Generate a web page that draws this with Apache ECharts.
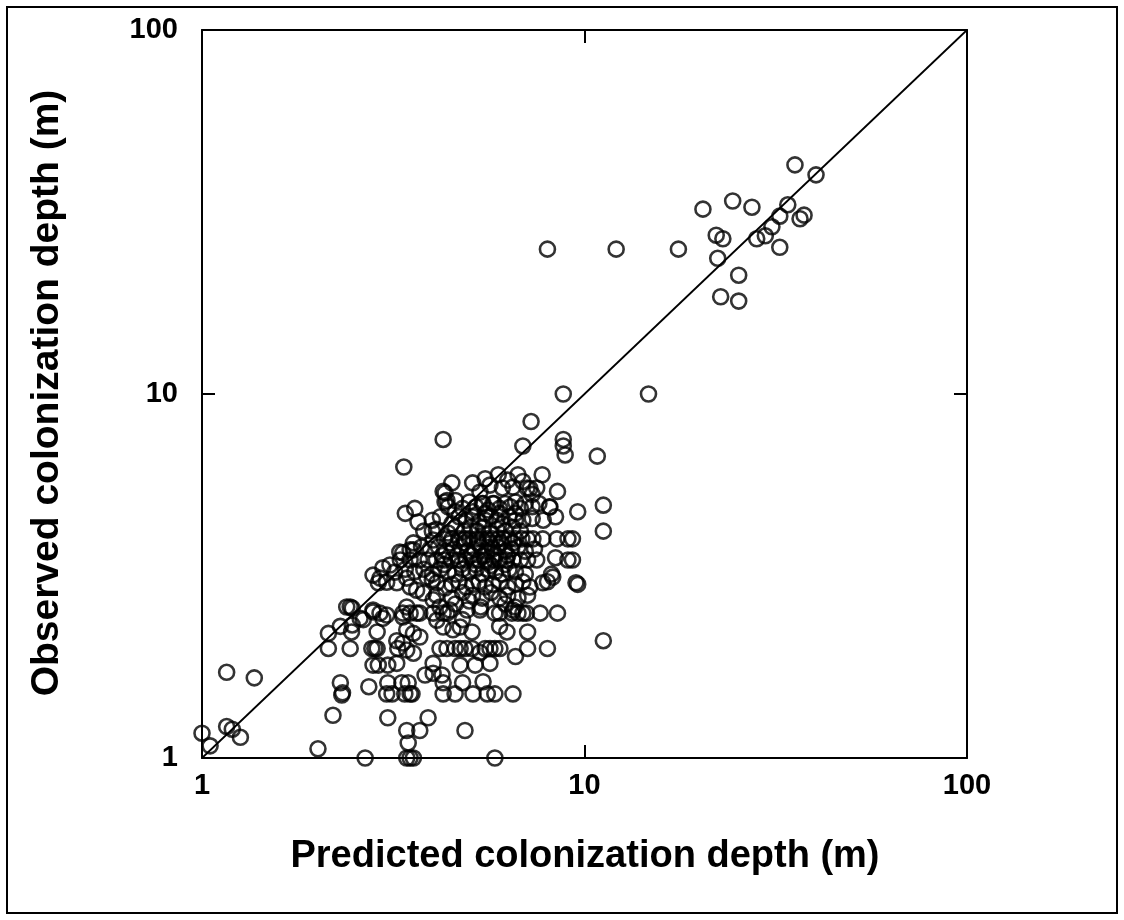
<!DOCTYPE html>
<html>
<head>
<meta charset="utf-8">
<script src="https://cdn.jsdelivr.net/npm/echarts@6/dist/echarts.min.js"></script>
<style>
html,body{margin:0;padding:0;background:#fff;}
#chart{width:1124px;height:920px;}
</style>
</head>
<body>
<div id="chart"></div>
<script>
// [predicted, observed] pairs (m)
const upperPoints = [
[12.1,25],[8.0,25],[17.6,25],[20.4,32.2],[24.4,33.9],[27.4,32.6],[35.5,42.6],[40.3,40.0],
[22.1,27.3],[23.0,26.7],[22.3,23.6],[25.3,21.2],[22.7,18.5],[25.3,18.0],[28.2,26.7],[29.7,27.2],
[30.9,28.8],[32.4,30.8],[34.0,33.1],[32.4,25.3],[36.6,30.3],[37.5,31.0],[8.8,10],[14.7,10]
];
const midOutliers = [
[8.8,7.5],[8.8,7.2],[8.9,6.8],[10.8,6.75],[7.25,8.4],[6.9,7.2],[4.27,7.5],[3.37,6.3],
[11.2,4.95],[11.2,4.2],[9.6,4.75],[9.3,4.0],[9.3,3.5],[9.6,3.0],[11.2,2.1],[8.5,5.4],
[8.4,3.55],[8.2,3.2],[8.0,3.05],[8.0,2.0],[8.5,2.5]
];
const lowPoints = [
[1.0,1.17],[1.05,1.08],[1.16,1.22],[1.2,1.2],[1.26,1.14],[1.16,1.72],[1.37,1.66],[2.01,1.06],
[2.67,1.0],[3.43,1.0],[3.5,1.0],[3.57,1.0],[5.83,1.0],[3.46,1.1],[3.43,1.19],[3.71,1.19],
[4.87,1.19],[2.2,1.31],[3.06,1.29],[3.9,1.29]
];
const bandPoints = [
[2.3,1.61],[2.33,1.51],[2.32,1.49],[2.73,1.57],[3.06,1.61],[3.04,1.5],[3.14,1.5],[3.33,1.61],
[3.46,1.61],[3.39,1.5],[3.5,1.5],[3.54,1.5],[4.27,1.5],[4.59,1.5],[5.11,1.5],[5.57,1.5],
[5.83,1.5],[6.5,1.5],[3.83,1.69],[4.02,1.71],[4.24,1.69],[4.27,1.61],[4.8,1.61],[5.43,1.62],
[4.02,1.82],[4.73,1.8],[5.18,1.8],[5.66,1.82],[2.8,1.8],[2.89,1.8],[3.06,1.8],[3.23,1.82],
[2.14,2.0],[2.44,2.0],[2.78,2.0],[2.83,2.0],[2.87,2.0],[3.25,2.0],[3.43,1.98],[3.57,1.94],
[4.19,2.0],[4.37,2.0],[4.59,2.0],[4.73,2.0],[4.87,2.0],[5.08,2.0],[5.33,1.95],[5.5,2.0],
[5.66,2.0],[5.83,2.0],[6.01,2.0],[6.6,1.9],[7.1,2.0],[3.23,2.1],[3.35,2.07],[3.71,2.15],
[3.57,2.2],[3.43,2.25],[4.27,2.29],[4.53,2.25],[4.73,2.29],[2.14,2.2],[2.3,2.3],[2.46,2.22],
[2.47,2.32],[2.87,2.22],[5.08,2.22],[6.27,2.22],[7.1,2.22],[6.0,2.3],[4.8,2.4],[2.64,2.4],
[2.59,2.42],[4.11,2.39],[3.35,2.44],[2.97,2.42]
];
const midBandPoints = [
[2.39,2.6],[2.47,2.58],[2.8,2.52],[2.92,2.5],[3.04,2.47],[2.44,2.6],[2.8,2.55],[3.43,2.6],
[3.5,2.5],[3.64,2.5],[4.02,2.72],[4.19,2.6],[4.37,2.5],[3.35,2.5],[3.71,2.5],[4.02,2.5],
[4.27,2.5],[4.45,2.55],[4.93,2.55],[5.33,2.55],[5.83,2.5],[6.0,2.5],[6.46,2.5],[6.5,2.55],
[6.58,2.6],[6.7,2.5],[6.9,2.5],[7.05,2.5],[7.66,2.5],[4.6,2.65],[5.0,2.7],[5.35,2.6],
[6.2,2.65],[4.1,2.8],[4.5,2.75],[4.8,2.85],[5.1,2.8],[5.4,2.75],[5.7,2.85],[6.0,2.75],
[6.3,2.8],[6.7,2.75],[7.1,2.8]
];
const corePoints = [
[4.4,4.9],[4.6,5.1],[4.8,4.85],[5.0,5.05],[5.2,4.9],[5.4,5.0],[5.6,4.8],[5.8,5.0],[6.0,4.85],
[6.2,5.0],[6.4,4.9],[6.6,5.05],[6.8,4.85],[7.0,5.0],[7.3,4.9],[7.6,5.0],[8.1,4.9],
[4.0,4.5],[4.2,4.6],[4.5,4.4],[4.7,4.6],[4.9,4.5],[5.1,4.6],[5.3,4.45],[5.5,4.5],[5.7,4.6],
[5.9,4.5],[6.1,4.4],[6.35,4.6],[6.6,4.5],[6.9,4.5],[7.3,4.55],[7.8,4.5],[8.4,4.6],
[3.8,4.2],[4.1,4.25],[4.4,4.15],[4.6,4.3],[4.85,4.2],[5.05,4.3],[5.25,4.2],[5.45,4.3],
[5.65,4.15],[5.9,4.25],[6.2,4.2],[6.5,4.3],[6.8,4.2],
[4.3,4.0],[4.5,4.0],[4.7,4.0],[4.87,4.0],[5.0,4.0],[5.24,4.0],[5.4,4.0],[5.57,4.0],[5.75,4.0],
[5.95,4.0],[6.15,4.0],[6.37,4.0],[6.6,4.0],[6.86,4.0],[7.1,4.0],[7.33,4.0],[7.78,4.0],[8.47,4.0],[9.05,4.0],
[3.35,3.66],[3.5,3.73],[3.57,3.73],[3.75,3.8],[3.95,3.75],[4.15,3.8],[4.35,3.7],[4.55,3.75],
[4.75,3.8],[4.95,3.7],[5.15,3.75],[5.35,3.8],[5.55,3.7],[5.75,3.75],[5.95,3.8],[6.2,3.7],
[6.45,3.75],[6.7,3.8],[7.0,3.7],[7.4,3.75],
[3.3,3.5],[3.5,3.5],[3.7,3.5],[3.9,3.5],[4.1,3.5],[4.3,3.5],[4.5,3.5],[4.7,3.5],[4.9,3.5],
[5.1,3.5],[5.3,3.5],[5.5,3.5],[5.6,3.45],[5.8,3.5],[6.0,3.5],[6.25,3.5],[6.5,3.5],[6.8,3.5],
[7.1,3.5],[7.5,3.5],[9.05,3.5],
[3.1,3.39],[2.97,3.33],[3.19,3.24],[3.4,3.3],[3.6,3.25],[3.8,3.3],[4.0,3.2],[4.2,3.3],[4.4,3.25],
[4.6,3.2],[4.8,3.3],[5.0,3.25],[5.2,3.3],[5.4,3.2],[5.6,3.3],[5.85,3.25],[6.1,3.2],[6.35,3.3],
[6.6,3.25],[7.0,3.2],[8.26,3.14],
[2.8,3.18],[2.92,3.12],[2.89,3.03],[3.04,3.04],[3.23,3.03],[3.43,3.12],[3.5,2.95],[3.64,2.89],
[3.79,2.84],[3.87,3.14],[4.0,3.09],[4.11,3.03],[4.32,2.93],[4.5,3.0],[4.7,3.05],[4.9,2.95],
[5.1,3.0],[5.3,3.05],[5.5,2.95],[5.75,3.0],[6.0,3.05],[6.3,2.95],[6.6,3.0],[6.9,3.05],[7.2,2.95],
[7.78,3.03],[9.5,3.03],
[4.25,3.6],[4.65,3.6],[5.05,3.62],[5.45,3.6],[5.85,3.62],[6.3,3.6],[4.45,3.9],[4.85,3.9],
[5.25,3.9],[5.65,3.88],[6.05,3.9],[6.5,3.9],[4.3,3.4],[4.75,3.4],[5.2,3.4],[5.7,3.38],
[6.2,3.4],[4.6,4.75],[5.1,4.75],[5.5,4.7],[6.0,4.7],[6.6,4.7]
];
const upperCorePoints = [
[4.27,5.4],[4.37,5.1],[4.5,5.7],[5.1,5.7],[5.33,5.38],[5.43,5.0],[5.76,5.0],[5.66,5.62],
[6.1,5.52],[6.5,5.55],[7.08,5.52],[7.5,5.52],[5.95,6.0],[6.7,6.0],[7.75,6.0],[7.2,5.5],
[4.32,5.35],[4.32,5.05],[8.12,4.89],[3.4,4.7],[3.6,4.85],[3.67,4.45],[4.0,4.2],[4.02,3.97],
[3.57,3.9],[3.29,3.68],[6.3,5.8],[6.9,5.75],[5.5,5.85],[7.3,5.3]
];
const diagonal = [[1,1],[100,100]];
const tickLabelsShown = [1, 10, 100];

const scatterData = [].concat(upperPoints, midOutliers, lowPoints, bandPoints, midBandPoints, corePoints, upperCorePoints);

const FONT = '"Liberation Sans", Arial, Helvetica, sans-serif';
const axisBase = {
  type: 'log', logBase: 10, min: 1, max: 100,
  axisLine: { show: true, onZero: false, lineStyle: { color: '#000', width: 2 } },
  axisTick: { show: true, inside: true, length: 13, lineStyle: { color: '#000', width: 2 } },
  minorTick: { show: false },
  splitLine: { show: false },
  axisLabel: {
    show: true, color: '#000', fontFamily: FONT, fontWeight: 'bold', fontSize: 29,
    formatter: v => (tickLabelsShown.indexOf(Math.round(v)) >= 0 ? String(Math.round(v)) : '')
  }
};
function ax(extra) { return Object.assign({}, JSON.parse(JSON.stringify(axisBase)), extra, {axisLabel: Object.assign({}, axisBase.axisLabel, extra.axisLabel || {})}); }

const chart = echarts.init(document.getElementById('chart'), null, { renderer: 'canvas' });
chart.setOption({
  animation: false,
  backgroundColor: '#fff',
  grid: { left: 202, top: 30, width: 765, height: 728, containLabel: false },
  xAxis: [
    ax({ position: 'bottom', axisLabel: { margin: 13 } }),
    ax({ position: 'top', axisLabel: { show: false } })
  ],
  yAxis: [
    ax({ position: 'left', axisLabel: { margin: 24 } }),
    ax({ position: 'right', axisLabel: { show: false } })
  ],
  graphic: [
    { type: 'rect', shape: { x: 7, y: 7, width: 1110, height: 906 }, style: { fill: 'none', stroke: '#000', lineWidth: 2 }, silent: true, z: -1 },
    { type: 'text', x: 585, y: 857, style: { text: 'Predicted colonization depth (m)', font: 'bold 38px ' + FONT, fill: '#000', textAlign: 'center', textVerticalAlign: 'middle' } },
    { type: 'text', x: 47, y: 393, rotation: Math.PI / 2, style: { text: 'Observed colonization depth (m)', font: 'bold 39px ' + FONT, fill: '#000', textAlign: 'center', textVerticalAlign: 'middle' } }
  ],
  series: [
    { type: 'line', data: diagonal, symbol: 'none', lineStyle: { color: '#000', width: 1.8 }, silent: true, z: 1 },
    { type: 'scatter', data: scatterData, symbol: 'circle', symbolSize: 15,
      itemStyle: { color: 'rgba(0,0,0,0)', borderColor: '#000', borderWidth: 2.6 }, z: 2 }
  ]
});
</script>
</body>
</html>
